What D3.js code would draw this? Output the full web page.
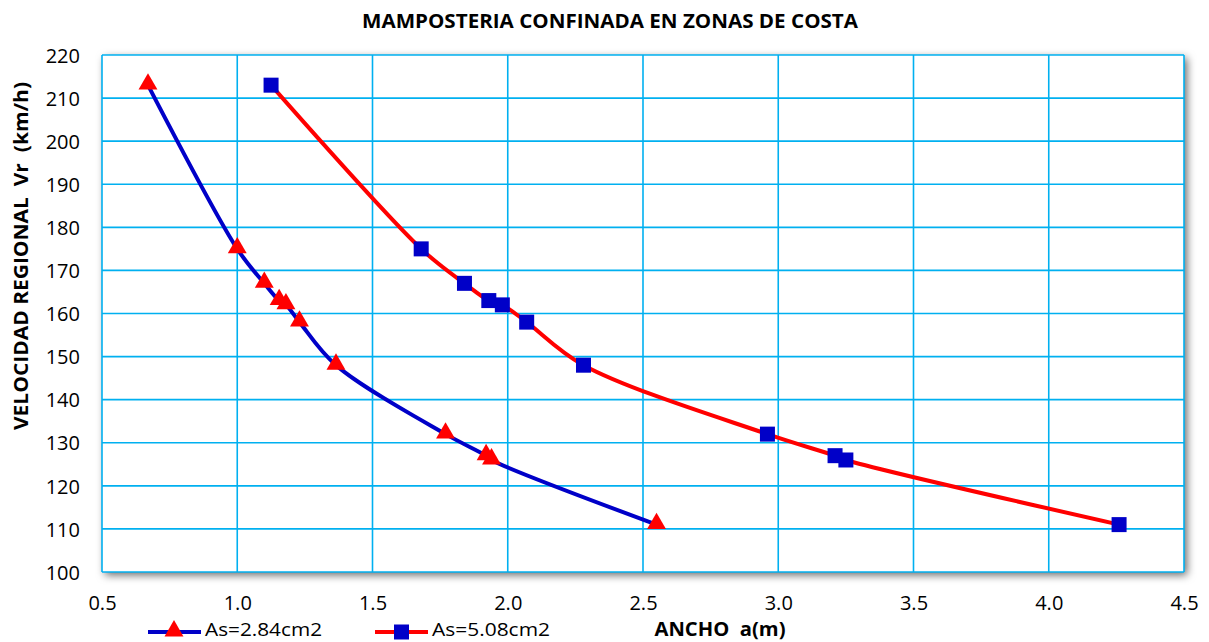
<!DOCTYPE html>
<html><head><meta charset="utf-8">
<script src="https://cdn.jsdelivr.net/npm/d3@7"></script>
<style>body{margin:0;background:#fff}svg{display:block}text{font-family:"Open Sans",sans-serif;white-space:pre}</style>
</head><body><svg id="c" width="1209" height="642"></svg>
<script>
const title = "MAMPOSTERIA CONFINADA EN ZONAS DE COSTA";
const xLabel = "ANCHO  a(m)";
const yLabel = "VELOCIDAD REGIONAL  Vr  (km/h)";
const seriesNames = ["As=2.84cm2", "As=5.08cm2"];
const velocities = [213, 175, 167, 163, 162, 158, 148, 132, 127, 126, 111];
const anchoA = [0.67, 1.00, 1.10, 1.155, 1.18, 1.23, 1.365, 1.77, 1.92, 1.94, 2.55];
const anchoB = [1.125, 1.68, 1.84, 1.93, 1.98, 2.07, 2.28, 2.96, 3.21, 3.25, 4.26];
const xTicks = [0.5, 1.0, 1.5, 2.0, 2.5, 3.0, 3.5, 4.0, 4.5];
const yTicks = [100, 110, 120, 130, 140, 150, 160, 170, 180, 190, 200, 210, 220];

const svg = d3.select("#c");
const L = 102, R = 1184, T = 55, B = 572;
const x = d3.scaleLinear().domain([0.5, 4.5]).range([L, R]);
const y = d3.scaleLinear().domain([100, 220]).range([B, T]);

const defs = svg.append("defs");
const f = defs.append("filter").attr("id","sh").attr("x","-5%").attr("y","-5%").attr("width","110%").attr("height","115%");
f.append("feDropShadow").attr("dx",3).attr("dy",3).attr("stdDeviation",4).attr("flood-color","#000").attr("flood-opacity",0.6);

svg.append("rect").attr("x",L).attr("y",T).attr("width",R-L).attr("height",B-T)
  .attr("fill","#fff").attr("filter","url(#sh)");

// grid
svg.append("g").selectAll("line").data(xTicks).join("line")
  .attr("x1",d=>x(d)).attr("x2",d=>x(d)).attr("y1",T).attr("y2",B)
  .attr("stroke","#00B0F0").attr("stroke-width",1.6);
svg.append("g").selectAll("line").data(yTicks).join("line")
  .attr("y1",d=>y(d)).attr("y2",d=>y(d)).attr("x1",L).attr("x2",R)
  .attr("stroke","#00B0F0").attr("stroke-width",1.6);

// axes labels
const xAxis = d3.axisBottom(x).tickValues(xTicks).tickFormat(d3.format(".1f")).tickSize(0).tickPadding(0);
const gx = svg.append("g").attr("transform",`translate(0,${B})`).call(xAxis);
gx.select(".domain").remove();
gx.selectAll("text").attr("font-size",20).attr("fill","#000").attr("dy","0").attr("y",38).attr("font-family","'Open Sans', sans-serif");
const yAxis = d3.axisLeft(y).tickValues(yTicks).tickSize(0).tickPadding(0);
const gy = svg.append("g").attr("transform",`translate(${L},0)`).call(yAxis);
gy.select(".domain").remove();
gy.selectAll("text").attr("font-size",20).attr("fill","#000").attr("x",-22).attr("dy","0.36em").attr("font-family","'Open Sans', sans-serif");

svg.append("text").attr("x",610).attr("y",28).attr("text-anchor","middle")
  .attr("font-weight","bold").attr("font-size",20).attr("textLength",496).attr("lengthAdjust","spacingAndGlyphs").text(title);
svg.append("text").attr("transform","translate(28,256) rotate(-90)").attr("text-anchor","middle")
  .attr("font-weight","bold").attr("font-size",20).attr("textLength",348).attr("lengthAdjust","spacingAndGlyphs").text(yLabel);
svg.append("text").attr("x",720).attr("y",636).attr("text-anchor","middle")
  .attr("font-weight","bold").attr("font-size",19).attr("textLength",131).attr("lengthAdjust","spacingAndGlyphs").text(xLabel);

const line = d3.line().x(d=>x(d[0])).y(d=>y(d[1])).curve(d3.curveCatmullRom.alpha(0.5));
const dA = anchoA.map((a,i)=>[a, velocities[i]]);
const dB = anchoB.map((a,i)=>[a, velocities[i]]);
svg.append("path").attr("d",line(dA)).attr("fill","none").attr("stroke","#0000C8").attr("stroke-width",4);
svg.append("path").attr("d",line(dB)).attr("fill","none").attr("stroke","#FF0000").attr("stroke-width",4);

const tri = d3.symbol().type(d3.symbolTriangle).size(155);
svg.append("g").selectAll("path").data(dA).join("path")
  .attr("d",tri).attr("transform",d=>`translate(${x(d[0])},${y(d[1])-1})`).attr("fill","#FF0000");
svg.append("g").selectAll("rect").data(dB).join("rect")
  .attr("x",d=>x(d[0])-7.5).attr("y",d=>y(d[1])-7.5).attr("width",15).attr("height",15).attr("fill","#0000C8");

// legend
const lg = svg.append("g");
lg.append("line").attr("x1",148).attr("x2",201).attr("y1",632).attr("y2",632).attr("stroke","#0000C8").attr("stroke-width",4);
lg.append("path").attr("d",tri).attr("transform","translate(174,631)").attr("fill","#FF0000");
lg.append("text").attr("x",205).attr("y",636).attr("font-size",18).attr("textLength",117).attr("lengthAdjust","spacingAndGlyphs").text(seriesNames[0]);
lg.append("line").attr("x1",375).attr("x2",428).attr("y1",632).attr("y2",632).attr("stroke","#FF0000").attr("stroke-width",4);
lg.append("rect").attr("x",394).attr("y",624.5).attr("width",15).attr("height",15).attr("fill","#0000C8");
lg.append("text").attr("x",432).attr("y",636).attr("font-size",18).attr("textLength",118).attr("lengthAdjust","spacingAndGlyphs").text(seriesNames[1]);
</script></body></html>
